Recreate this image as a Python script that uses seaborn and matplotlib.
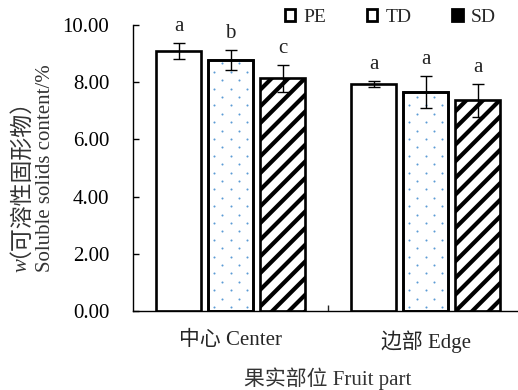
import matplotlib
matplotlib.use("Agg")
import matplotlib.pyplot as plt
import seaborn as sns
import numpy as np
import pandas as pd
from matplotlib.patches import Patch, Rectangle

# Soluble solids content (%) by fruit part and drying treatment
parts = ["中心 Center", "边部 Edge"]
treatments = ["PE", "TD", "SD"]
pe_mean = [9.10, 7.93]
td_mean = [8.78, 7.65]
sd_mean = [8.13, 7.36]
pe_err = [0.28, 0.10]
td_err = [0.36, 0.56]
sd_err = [0.47, 0.58]
pe_sig = ["a", "a"]
td_sig = ["b", "a"]
sd_sig = ["c", "a"]
y_ticks = [0, 2, 4, 6, 8, 10]

sns.set_theme(style="ticks")
plt.rcParams["font.family"] = ["Liberation Serif", "Noto Sans CJK SC"]

means = {"PE": pe_mean, "TD": td_mean, "SD": sd_mean}
errs = {"PE": pe_err, "TD": td_err, "SD": sd_err}
sigs = {"PE": pe_sig, "TD": td_sig, "SD": sd_sig}

rows = []
for t in treatments:
    for p, v in zip(parts, means[t]):
        rows.append({"part": p, "treatment": t, "value": v})
df = pd.DataFrame(rows)

fig = plt.figure(figsize=(5.18, 3.90), dpi=100)
ax = fig.add_axes([0.2568, 0.2026, 0.7529, 0.7333])

sns.barplot(data=df, x="part", y="value", hue="treatment", order=parts,
            hue_order=treatments, errorbar=None, width=0.8, gap=0.13,
            palette=["white"] * 3, edgecolor="black", linewidth=1.9,
            legend=False, ax=ax)

ax.set_xlim(-0.5, 1.5)
ax.set_ylim(0, 10)


def set_hatch_lw(patch, lw):
    if hasattr(patch, "set_hatch_linewidth"):
        patch.set_hatch_linewidth(lw)
    else:
        patch._hatch_linewidth = lw


def dot_texture(bar, color, dx_px=16.7, dy_px=8.4, size=2.2):
    """Staggered dot fill clipped to a bar."""
    x0, y0 = bar.get_x(), bar.get_y()
    x1, y1 = x0 + bar.get_width(), y0 + bar.get_height()
    (px0, py0), (px1, py1) = ax.transData.transform([(x0, y0), (x1, y1)])
    pts = []
    for i, py in enumerate(np.arange(py0 + 4, py1, dy_px)):
        start = px0 + 6 + (dx_px / 2 if i % 2 else 0)
        for px in np.arange(start, px1 - 2, dx_px):
            pts.append((px, py))
    if not pts:
        return
    data_pts = ax.transData.inverted().transform(pts)
    sc = ax.scatter(data_pts[:, 0], data_pts[:, 1], s=size, color=color,
                    linewidths=0, zorder=bar.get_zorder() + 0.05)
    sc.set_clip_path(bar)


dot_blue = "#5b9bd5"
for t, cont in zip(treatments, ax.containers):
    for bar, m, e, s in zip(cont.patches, means[t], errs[t], sigs[t]):
        bar.set_facecolor("white")
        bar.set_edgecolor("black")
        if t == "TD":
            dot_texture(bar, dot_blue)
            outline = Rectangle(bar.get_xy(), bar.get_width(), bar.get_height(),
                                fill=False, edgecolor="black", linewidth=1.9,
                                zorder=bar.get_zorder() + 0.1)
            ax.add_patch(outline)
        elif t == "SD":
            bar.set_hatch("//")
            set_hatch_lw(bar, 3.0)
        cx = bar.get_x() + bar.get_width() / 2
        ax.errorbar(cx, m, yerr=e, color="black", linewidth=1.0,
                    capsize=4, capthick=1.0, zorder=5)
        ax.annotate(s, (cx, m + e), xytext=(0, 5), textcoords="offset points",
                    ha="center", va="bottom", fontsize=15, color="#222222")

ax.set_yticks(y_ticks)
ax.set_yticklabels([f"{v:.2f}" for v in y_ticks])
ax.tick_params(axis="y", direction="in", length=4, width=1, labelsize=15,
               colors="black", pad=17)
ax.tick_params(axis="x", which="major", length=0, labelsize=15, pad=14)
ax.set_xticks([0.5], minor=True)
ax.tick_params(axis="x", which="minor", direction="in", length=4, width=1)

for side in ["top", "right"]:
    ax.spines[side].set_visible(False)
for side in ["left", "bottom"]:
    ax.spines[side].set_linewidth(1.0)
    ax.spines[side].set_color("black")

ax.set_xlabel("果实部位 Fruit part", fontsize=15, color="#333333", labelpad=10)
ax.set_ylabel("")

# two-line y-axis title: italic w + Chinese name, then English name
label_color = "#333333"
fig.text(0.088, 0.569, "Soluble solids content/%", rotation=90, ha="center",
         va="center", fontsize=15, color=label_color)
# rotated CJK glyphs are drawn right of their layout box, so the box sits
# a little left of the first title column
fig.text(0.015, 0.3385, "（可溶性固形物）", rotation=90, ha="center",
         va="bottom", fontsize=16.5, color=label_color,
         family=["Noto Sans CJK SC", "Liberation Serif"])
fig.text(0.0425, 0.3385, "w", rotation=90, ha="center", va="top",
         fontsize=15, style="italic", color=label_color)

handles = [
    Patch(facecolor="white", edgecolor="black", linewidth=2.0, label="PE"),
    Patch(facecolor="white", edgecolor="black", linewidth=2.0, label="TD"),
    Patch(facecolor="black", edgecolor="black", linewidth=2.0, label="SD"),
]
fig.legend(handles=handles, loc="center", bbox_to_anchor=(0.753, 0.956),
           ncol=3, frameon=False, fontsize=14, handlelength=0.55,
           handleheight=0.55, handletextpad=0.4, columnspacing=2.1)

fig.savefig("out.png", dpi=100)
